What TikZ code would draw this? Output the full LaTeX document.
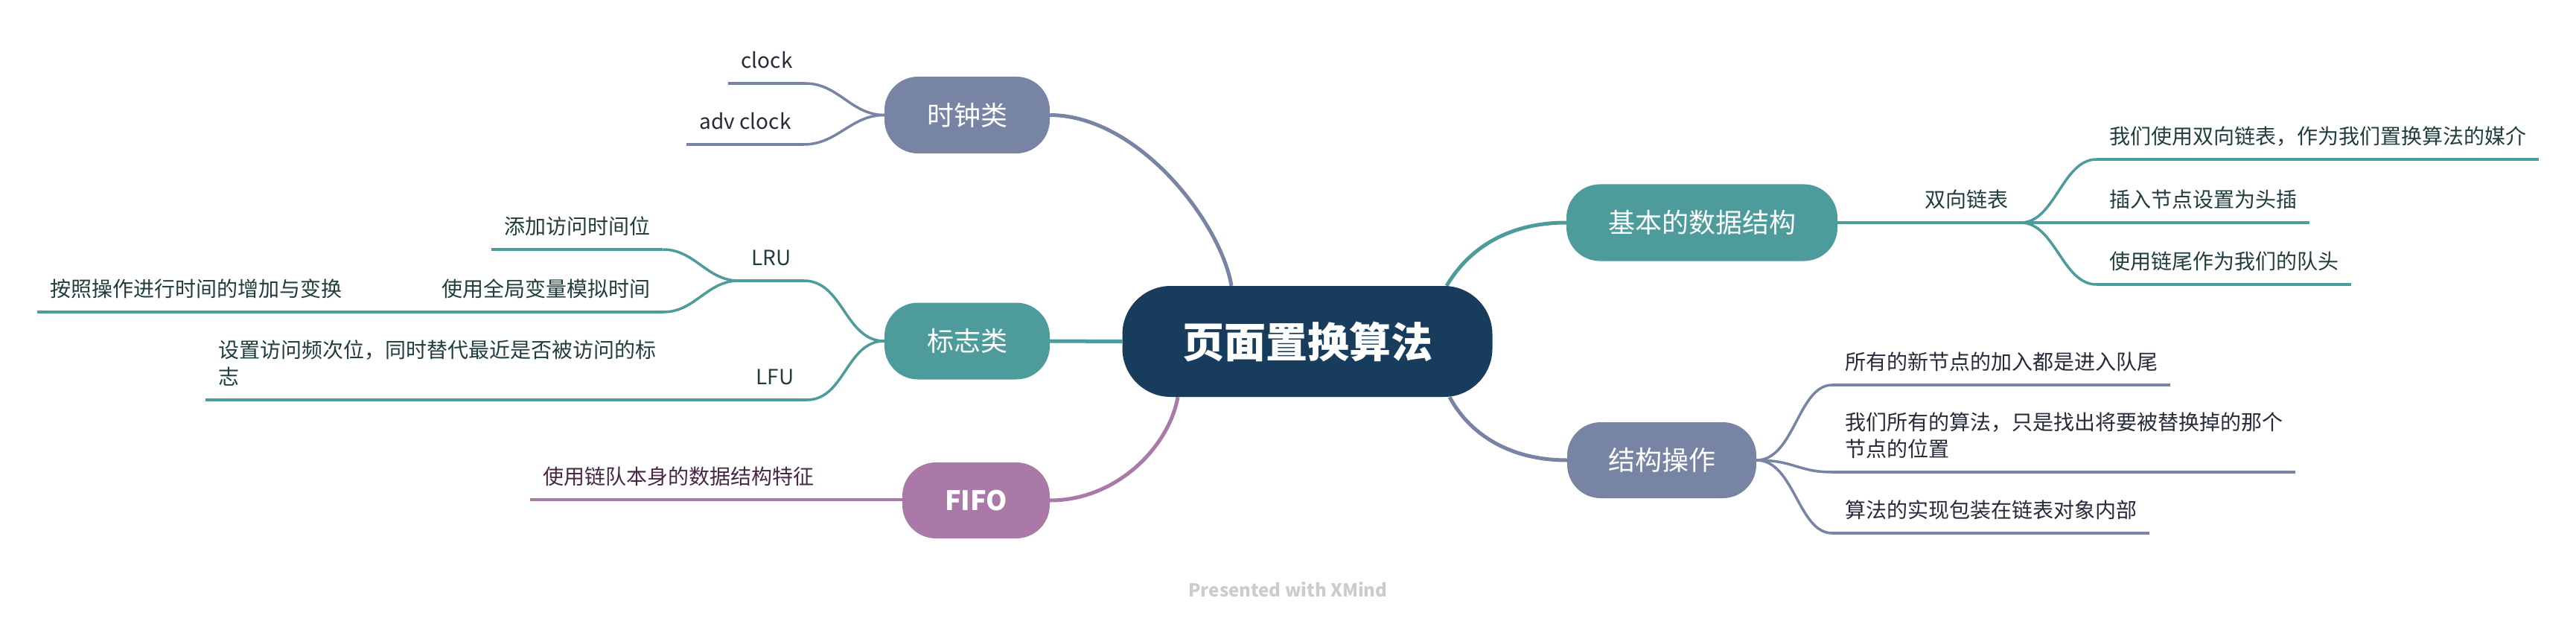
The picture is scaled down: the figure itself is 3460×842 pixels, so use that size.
\documentclass[tikz,border=0pt]{standalone}
\usepackage{fontspec}
\setmainfont{Noto Sans CJK SC}
\definecolor{cNavy}{HTML}{183D5C}
\definecolor{cSlate}{HTML}{7784A3}
\definecolor{cTeal}{HTML}{4D9C9B}
\definecolor{cMauve}{HTML}{AA79A8}
\definecolor{tSlate}{HTML}{272B39}
\definecolor{tTeal}{HTML}{213D3C}
\definecolor{tMauve}{HTML}{472746}
\definecolor{cMark}{HTML}{CCCCCC}
\pgfdeclarelayer{bg}
\pgfsetlayers{bg,main}
\begin{document}
\begin{tikzpicture}[x=1pt,y=-1pt,
  topic/.style={rounded corners=45pt, inner sep=0pt, minimum height=103pt,
    text=white, font=\fontsize{36}{43}\selectfont},
  leaf/.style={inner xsep=17pt, inner ysep=20pt, text depth=0pt, align=left,
    font=\fontsize{28}{36}\selectfont},
  ul/.style={line width=3.5pt},
  conn/.style={line width=3.5pt},
  mainconn/.style={line width=5pt},
]
\useasboundingbox (0,0) rectangle (3460,842);

% main topics
\node[topic, fill=cNavy, minimum width=497pt, minimum height=149pt, rounded corners=65pt,
  font=\fontsize{56}{64}\selectfont\bfseries] (root) at (1756,458.5) {页面置换算法};
\node[topic, fill=cSlate, minimum width=222pt] (clk) at (1299,154.5) {时钟类};
\node[topic, fill=cTeal, minimum width=222pt] (flag) at (1299,458) {标志类};
\node[topic, fill=cMauve, minimum width=198pt, minimum height=102pt,
  font=\fontsize{36}{43}\selectfont\bfseries] (fifo) at (1311,672) {FIFO};
\node[topic, fill=cTeal, minimum width=364pt] (ds) at (2286,299) {基本的数据结构};
\node[topic, fill=cSlate, minimum width=254pt, minimum height=102pt] (ops) at (2232,618) {结构操作};

% leaves, left
\node[leaf, text=tSlate, anchor=south] (c1) at (1030,112) {clock};
\node[leaf, text=tSlate, anchor=south] (c2) at (1001,194) {adv clock};
\node[leaf, text=tTeal, anchor=south west] (lru1) at (660,335) {添加访问时间位};
\node[leaf, text=tTeal, anchor=south] (lru) at (1036,377) {LRU};
\node[leaf, text=tTeal, anchor=south east] (lru2) at (891,419) {使用全局变量模拟时间};
\node[leaf, text=tTeal, anchor=south west] (lru2a) at (50,419) {按照操作进行时间的增加与变换};
\node[leaf, text=tTeal, anchor=south] (lfu) at (1041,537) {LFU};
\node[leaf, text=tTeal, anchor=south west] (lfu1) at (276,537) {设置访问频次位，同时替代最近是否被访问的标\\志};
\node[leaf, text=tMauve, anchor=south west] (f1) at (712,671) {使用链队本身的数据结构特征};

% leaves, right
\node[leaf, text=tTeal, anchor=south] (dll) at (2641,299) {双向链表};
\node[leaf, text=tTeal, anchor=south west] (r1) at (2816,214) {我们使用双向链表，作为我们置换算法的媒介};
\node[leaf, text=tTeal, anchor=south west] (r2) at (2816,299) {插入节点设置为头插};
\node[leaf, text=tTeal, anchor=south west] (r3) at (2816,382) {使用链尾作为我们的队头};
\node[leaf, text=tSlate, anchor=south west] (o1) at (2461,517) {所有的新节点的加入都是进入队尾};
\node[leaf, text=tSlate, anchor=south west] (o2) at (2461,634) {我们所有的算法，只是找出将要被替换掉的那个\\节点的位置};
\node[leaf, text=tSlate, anchor=south west] (o3) at (2461,716) {算法的实现包装在链表对象内部};

\node[font=\fontsize{24}{28}\selectfont\bfseries, text=cMark] (mark) at (1730,792) {Presented with XMind};

\begin{pgfonlayer}{bg}
\fill[white] (0,0) rectangle (3460,842);
% main connectors
\draw[mainconn,cSlate] (clk.east) .. controls (1530,155) and (1640,300) .. ([xshift=-102pt]root.north);
\draw[mainconn,cTeal] (flag.east) -- (root.west);
\draw[mainconn,cMauve] (fifo.east) .. controls (1500,672) and (1570,600) .. ([xshift=-174pt]root.south);
\draw[mainconn,cTeal] ([xshift=187pt]root.north) .. controls (1975,330) and (2030,299) .. (ds.west);
\draw[mainconn,cSlate] ([xshift=191pt]root.south) .. controls (1975,585) and (2030,618) .. (ops.west);

% underlines
\foreach \n in {c1,c2}{\draw[ul,cSlate] (\n.south west) -- (\n.south east);}
\foreach \n in {lru1,lru,lru2,lru2a,lfu,lfu1,dll,r1,r2,r3}{\draw[ul,cTeal] (\n.south west) -- (\n.south east);}
\foreach \n in {o1,o2,o3}{\draw[ul,cSlate] (\n.south west) -- (\n.south east);}
\draw[ul,cMauve] (f1.south west) -- (f1.south east);

% branch connectors
\draw[conn,cSlate] (c1.south east) to[out=0,in=180] (clk.west);
\draw[conn,cSlate] (c2.south east) to[out=0,in=180] (clk.west);
\draw[conn,cTeal] (lru1.south east) to[out=0,in=180] (lru.south west);
\draw[conn,cTeal] (lru2.south east) to[out=0,in=180] (lru.south west);
\draw[conn,cTeal] (lru2a.south east) -- (lru2.south west);
\draw[conn,cTeal] (lru.south east) to[out=0,in=180] (flag.west);
\draw[conn,cTeal] (lfu.south east) to[out=0,in=180] (flag.west);
\draw[conn,cTeal] (lfu1.south east) -- (lfu.south west);
\draw[conn,cMauve] (f1.south east) -- (f1.south east -| fifo.west);
\draw[conn,cTeal] (ds.east) -- (dll.south west);
\draw[conn,cTeal] (dll.south east) .. controls +(46,0) and +(-46,0) .. (r1.south west);
\draw[conn,cTeal] (dll.south east) -- (r2.south west);
\draw[conn,cTeal] (dll.south east) .. controls +(46,0) and +(-46,0) .. (r3.south west);
\draw[conn,cSlate] (ops.east) .. controls +(51,0) and +(-46,0) .. (o1.south west);
\draw[conn,cSlate] (ops.east) .. controls +(51,0) and +(-46,0) .. (o2.south west);
\draw[conn,cSlate] (ops.east) .. controls +(51,0) and +(-46,0) .. (o3.south west);
\end{pgfonlayer}
\end{tikzpicture}
\end{document}
